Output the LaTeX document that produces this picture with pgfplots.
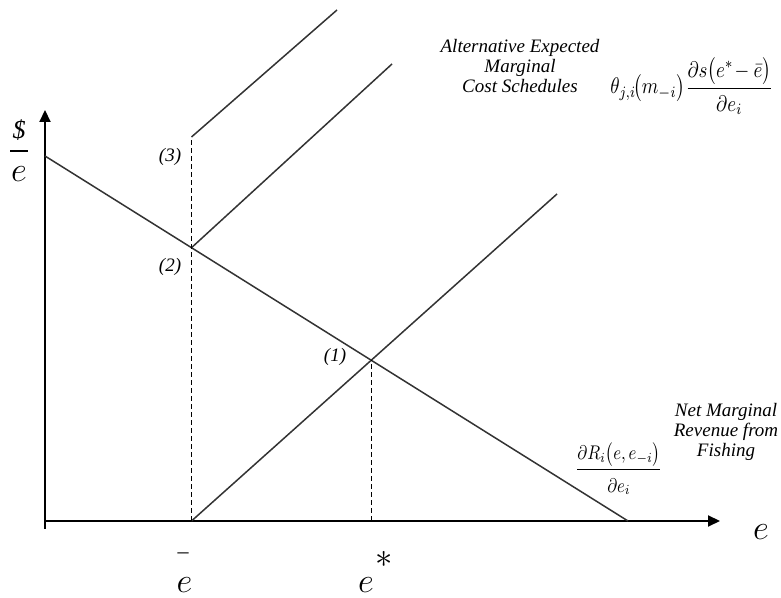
\documentclass[border=0pt]{standalone}
\usepackage{pgfplots}
\pgfplotsset{compat=1.18}
\usepackage{fontspec}
\setmainfont{Liberation Serif}
\usetikzlibrary{arrows.meta}

\definecolor{curve}{HTML}{333333}

\begin{document}
\begin{tikzpicture}
\begin{axis}[
  x=0.5pt, y=0.5pt,
  xmin=-45, xmax=736, ymin=-77, ymax=521,
  hide axis, clip=false,
]
% corners of the drawing area
\coordinate (SW) at (axis cs:-45,-77);
\coordinate (NE) at (axis cs:736,521);

% axes
\addplot[black, line width=1pt, -{Triangle[length=6pt,width=5.5pt]}]
  coordinates {(0,-8) (0,411)};
\addplot[black, line width=1pt, -{Triangle[length=6pt,width=5.5pt]}]
  coordinates {(0,0) (675,0)};

% net marginal revenue
\addplot[curve, line width=0.75pt] coordinates {(0,365) (583,0)};

% expected marginal cost schedules
\addplot[curve, line width=0.75pt] coordinates {(146.5,0) (326.5,161) (512,327)};
\addplot[curve, line width=0.75pt] coordinates {(146.5,273.3) (347,457)};
\addplot[curve, line width=0.75pt] coordinates {(146.5,384) (292,511)};

% reference levels of effort
\addplot[black, line width=0.8pt, dash pattern=on 2.5pt off 1.5pt]
  coordinates {(146.5,0) (146.5,384)};
\addplot[black, line width=0.8pt, dash pattern=on 2.5pt off 1.5pt]
  coordinates {(326.5,0) (326.5,161)};

% intersection labels
\begin{scope}[font=\fontsize{9.5}{10}\selectfont\itshape]
\node at (axis cs:125,364) {(3)};
\node at (axis cs:125,254) {(2)};
\node at (axis cs:290,164) {(1)};
\node[align=center] at (axis cs:475,455) {Alternative Expected\\Marginal\\Cost Schedules};
\node[align=center, inner sep=0pt] at (axis cs:681,89) {Net Marginal\\Revenue from\\Fishing};
\end{scope}

% formulas
\node[anchor=west, inner sep=0pt] at (axis cs:565,434.5)
  {\resizebox*{81.5pt}{28.5pt}{$\displaystyle \theta_{j,i}\!\bigl(m_{-i}\bigr)\frac{\partial s\bigl(e^{*}\!-\bar{e}\bigr)}{\rule{0pt}{9pt}\partial e_{i}}$}};
\node[anchor=west, inner sep=0pt] at (axis cs:530,52)
  {\resizebox*{43.5pt}{26pt}{$\displaystyle \frac{\partial R_{i}\bigl(e,e_{-i}\bigr)}{\rule{0pt}{10pt}\partial e_{i}}$}};

% axis labels
\begin{scope}[inner sep=0pt]
\node[font=\fontsize{13}{14}\selectfont\itshape] at (axis cs:-26,391) {\$};
\draw[black, line width=0.8pt] (axis cs:-35,370) -- (axis cs:-17,370);
\node[font=\fontsize{19}{22}\selectfont] at (axis cs:-26,347) {$e$};
\node[font=\fontsize{19}{22}\selectfont] at (axis cs:716,-11) {$e$};
\node[font=\fontsize{19}{22}\selectfont] at (axis cs:139.5,-64) {$e$};
\node[font=\fontsize{11}{12}\selectfont] at (axis cs:138,-35) {\textendash};
\node[font=\fontsize{19}{22}\selectfont] at (axis cs:321,-64) {$e$};
\node[font=\fontsize{17}{18}\selectfont] at (axis cs:339,-38) {$*$};
\end{scope}
\end{axis}
\pgfresetboundingbox
\useasboundingbox (SW) rectangle (NE);
\end{tikzpicture}
\end{document}
